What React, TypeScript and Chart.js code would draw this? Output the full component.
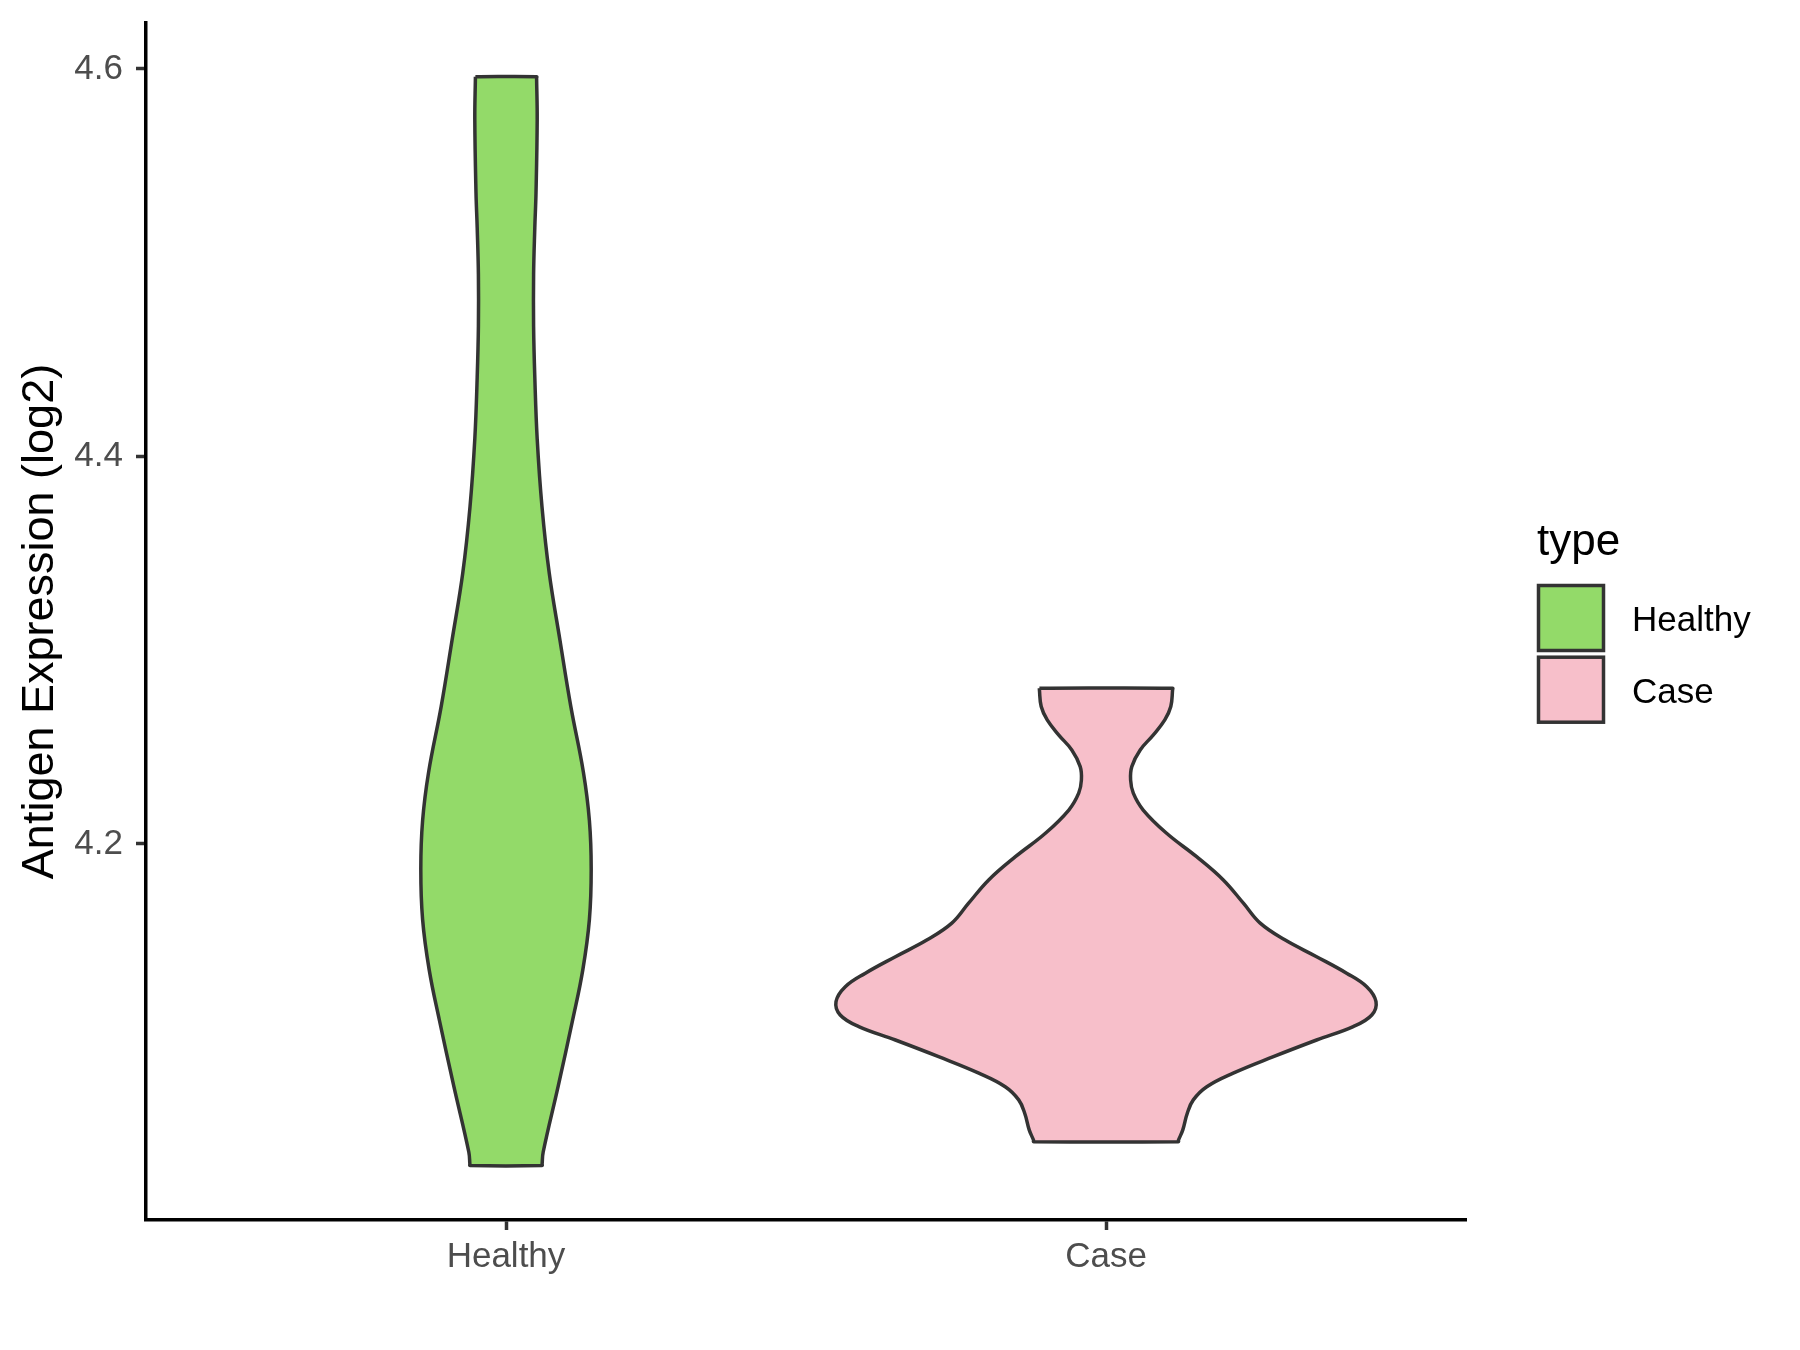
import React, { useEffect, useRef } from "react";
import { Chart, registerables } from "chart.js";

Chart.register(...registerables);

// ---------- data ----------
const CATEGORIES = ["Healthy", "Case"];
const CATEGORY_POSITIONS = [1, 2];
const FILL_COLORS = ["#93DA69", "#F7BFCA"];
const Y_TICKS = [4.2, 4.4, 4.6];
const Y_TITLE = "Antigen Expression (log2)";
const LEGEND_TITLE = "type";

// violin outlines: expression level (y) and half-width (in category units), top -> bottom
const HEALTHY_LEVELS = [4.596, 4.5952, 4.574, 4.536, 4.518, 4.494, 4.467, 4.441, 4.409, 4.374, 4.34, 4.305, 4.271, 4.237, 4.212, 4.187, 4.161, 4.135, 4.109, 4.075, 4.041, 4.0348, 4.034];
const HEALTHY_HALF_WIDTHS = [0.051, 0.051, 0.052, 0.05, 0.048, 0.046, 0.046, 0.048, 0.052, 0.06, 0.072, 0.09, 0.108, 0.129, 0.139, 0.142, 0.139, 0.128, 0.111, 0.087, 0.062, 0.0602, 0.06];

const CASE_LEVELS = [4.2804, 4.2796, 4.2709, 4.264, 4.2563, 4.2485, 4.2399, 4.233, 4.2262, 4.2175, 4.2055, 4.1934, 4.1814, 4.1694, 4.1591, 4.1505, 4.1418, 4.1333, 4.1263, 4.1186, 4.1117, 4.1057, 4.0988, 4.0902, 4.0817, 4.0747, 4.0679, 4.061, 4.0524, 4.0471, 4.0463];
const CASE_HALF_WIDTHS = [0.111, 0.111, 0.108, 0.098, 0.079, 0.057, 0.043, 0.041, 0.0455, 0.062, 0.101, 0.151, 0.1955, 0.229, 0.257, 0.298, 0.351, 0.401, 0.4345, 0.45, 0.443, 0.412, 0.351, 0.279, 0.212, 0.168, 0.1455, 0.1355, 0.128, 0.1208, 0.1205];

const Y_MIN = 4.0059;
const Y_MAX = 4.6237;
const X_MIN = 0.4;
const X_MAX = 2.6;

// ---------- styles ----------
const FONT = "'Liberation Sans', Arial, Helvetica, sans-serif";
const OUTLINE = "#333333";

function outline(center: number, levels: number[], hw: number[]) {
  const pts: { x: number; y: number }[] = [];
  for (let i = 0; i < levels.length; i++) pts.push({ x: center - hw[i], y: levels[i] });
  for (let i = levels.length - 1; i >= 0; i--) pts.push({ x: center + hw[i], y: levels[i] });
  pts.push({ x: center - hw[0], y: levels[0] });
  return pts;
}

const violinFillPlugin = {
  id: "violinFill",
  beforeDatasetDraw(chart: any, args: any) {
    const line = args.meta.dataset;
    if (!line) return;
    const ctx = chart.ctx;
    line.updateControlPoints(chart.chartArea, "x");
    ctx.save();
    ctx.beginPath();
    line.path(ctx);
    ctx.closePath();
    ctx.fillStyle = chart.data.datasets[args.index].backgroundColor;
    ctx.fill();
    ctx.restore();
  },
};

const legendPlugin = {
  id: "violinLegend",
  afterDraw(chart: any) {
    const ctx = chart.ctx;
    ctx.save();
    ctx.fillStyle = "#000000";
    ctx.font = `44px ${FONT}`;
    ctx.textAlign = "left";
    ctx.textBaseline = "alphabetic";
    ctx.fillText(LEGEND_TITLE, 1537, 555);
    chart.data.datasets.forEach((ds: any, i: number) => {
      const top = 585.5 + i * 71.7;
      ctx.fillStyle = ds.backgroundColor;
      ctx.fillRect(1538.5, top, 65, 65);
      ctx.strokeStyle = ds.borderColor;
      ctx.lineWidth = 3.5;
      ctx.strokeRect(1538.5, top, 65, 65);
      ctx.fillStyle = "#000000";
      ctx.font = `35px ${FONT}`;
      ctx.textBaseline = "middle";
      ctx.fillText(ds.label, 1632, top + 36);
    });
    ctx.restore();
  },
};

export default function App() {
  const canvasRef = useRef<HTMLCanvasElement | null>(null);

  useEffect(() => {
    document.body.style.margin = "0";
    const canvas = canvasRef.current;
    if (!canvas) return;

    const datasets = [
      {
        label: CATEGORIES[0],
        data: outline(CATEGORY_POSITIONS[0], HEALTHY_LEVELS, HEALTHY_HALF_WIDTHS),
        backgroundColor: FILL_COLORS[0],
        borderColor: OUTLINE,
      },
      {
        label: CATEGORIES[1],
        data: outline(CATEGORY_POSITIONS[1], CASE_LEVELS, CASE_HALF_WIDTHS),
        backgroundColor: FILL_COLORS[1],
        borderColor: OUTLINE,
      },
    ].map((d) => ({
      ...d,
      borderWidth: 3.5,
      pointRadius: 0,
      pointHoverRadius: 0,
      tension: 0.4,
      fill: false,
      borderJoinStyle: "round" as const,
    }));

    const chart = new Chart(canvas, {
      type: "line",
      data: { datasets },
      plugins: [violinFillPlugin, legendPlugin],
      options: {
        animation: false,
        responsive: false,
        devicePixelRatio: 1,
        events: [],
        layout: { padding: { top: 23, right: 334, bottom: 0, left: 0 } },
        plugins: {
          legend: { display: false },
          tooltip: { enabled: false },
          title: { display: false },
        },
        scales: {
          x: {
            type: "linear",
            min: X_MIN,
            max: X_MAX,
            afterBuildTicks: (scale: any) => {
              scale.ticks = CATEGORY_POSITIONS.map((v) => ({ value: v }));
            },
            afterFit: (scale: any) => {
              scale.height = 130;
              scale.paddingLeft = 0;
              scale.paddingRight = 0;
            },
            ticks: {
              callback: (value: any) => {
                const i = CATEGORY_POSITIONS.indexOf(Number(value));
                return i >= 0 ? CATEGORIES[i] : "";
              },
              color: "#4D4D4D",
              font: { family: FONT, size: 35 },
              padding: 6,
              maxRotation: 0,
              autoSkip: false,
            },
            grid: {
              display: true,
              drawOnChartArea: false,
              drawTicks: true,
              tickLength: 10,
              tickWidth: 3.5,
              tickColor: OUTLINE,
            },
            border: { display: true, color: "#000000", width: 3.5 },
          },
          y: {
            type: "linear",
            min: Y_MIN,
            max: Y_MAX,
            afterBuildTicks: (scale: any) => {
              scale.ticks = Y_TICKS.map((v) => ({ value: v }));
            },
            afterFit: (scale: any) => {
              scale.width = 146;
              scale.paddingTop = 0;
              scale.paddingBottom = 0;
            },
            ticks: {
              callback: (value: any) => Number(value).toFixed(1),
              color: "#4D4D4D",
              font: { family: FONT, size: 35 },
              padding: 13,
              autoSkip: false,
            },
            grid: {
              display: true,
              drawOnChartArea: false,
              drawTicks: true,
              tickLength: 10,
              tickWidth: 3.5,
              tickColor: OUTLINE,
            },
            border: { display: true, color: "#000000", width: 3.5 },
            title: {
              display: true,
              text: Y_TITLE,
              color: "#000000",
              font: { family: FONT, size: 45 },
              padding: { top: 14, bottom: 0 },
            },
          },
        },
      },
    });

    return () => chart.destroy();
  }, []);

  return (
    <div style={{ width: 1800, height: 1350, background: "#ffffff" }}>
      <canvas ref={canvasRef} width={1800} height={1350} style={{ display: "block", width: 1800, height: 1350 }} />
    </div>
  );
}
